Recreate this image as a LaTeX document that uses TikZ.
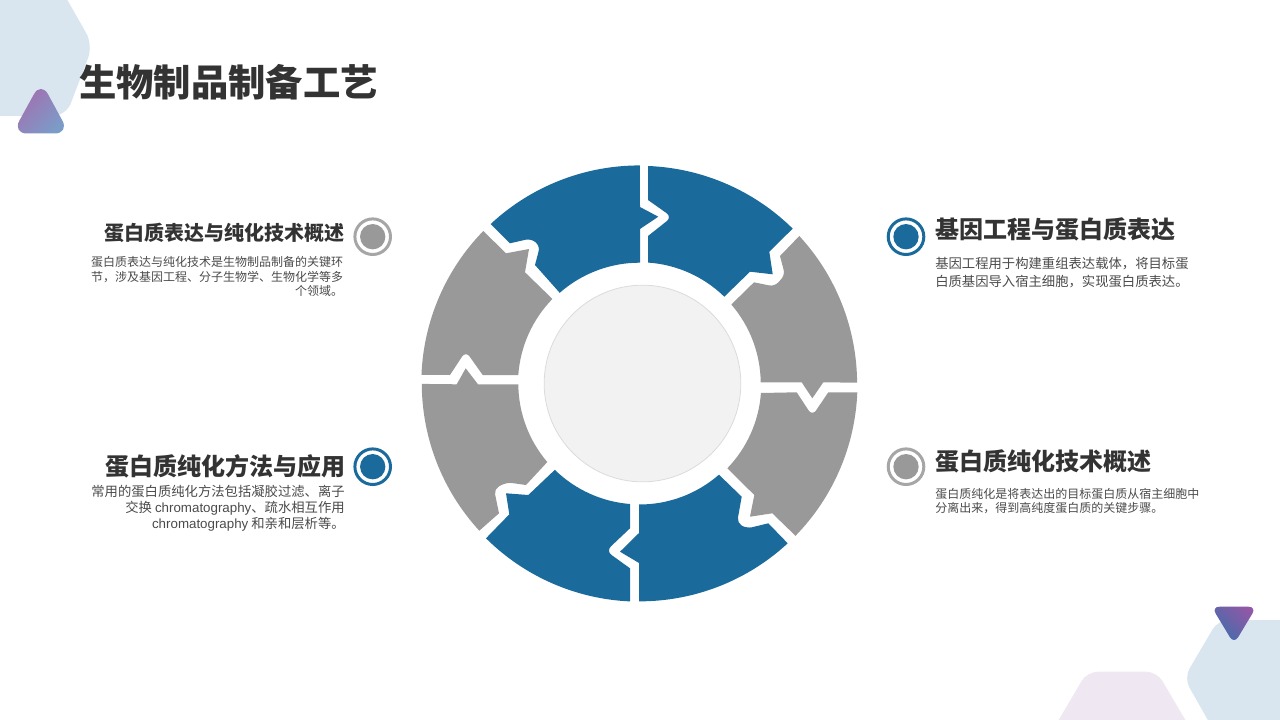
\documentclass[tikz,border=0pt]{standalone}
\usepackage{fontspec}
\setmainfont{Liberation Sans}
\newfontfamily\cjk{Noto Sans CJK SC}
\usetikzlibrary{positioning}
\definecolor{pieceblue}{HTML}{1B6A9C}
\definecolor{piecegray}{HTML}{999999}
\definecolor{ringgray}{HTML}{A6A6A6}
\definecolor{hexblue}{HTML}{DAE6EF}
\definecolor{hexpink}{HTML}{EFE8F3}
\definecolor{darktext}{HTML}{333333}
\definecolor{bodytext}{HTML}{4A4A4A}
\definecolor{triApurple}{HTML}{A66BAE}
\definecolor{triAblue}{HTML}{7A9DC8}
\definecolor{triBpurple}{HTML}{9058A6}
\definecolor{triBblue}{HTML}{3D6EAC}
\tikzset{
  bluepiece/.style={fill=pieceblue},
  graypiece/.style={fill=piecegray},
  ring/.style={shape=circle,draw,line width=2.25pt,minimum size=26.7pt,inner sep=0,outer sep=0},
  dot/.style={shape=circle,minimum size=19pt,inner sep=0},
  heading/.style={inner sep=0,text=darktext,font=\cjk\bfseries\fontsize{18}{22}\selectfont},
  bodytxt/.style={inner sep=0,text=bodytext}
}
\begin{document}
\begin{tikzpicture}[x=.75pt,y=-.75pt]
  \useasboundingbox (0,0) rectangle (1280,720);
  \begin{scope}
    \clip (0,0) rectangle (1280,720);
    % corner decorations
    \fill[hexblue,rounded corners=10pt] (-20,-20) -- (56,-20) -- (93,45) -- (66,116) -- (-20,116) -- cycle;
    \shade[left color=triApurple,right color=triAblue,shading angle=45,rounded corners=11pt] (41,81.4) -- (12.3,133.5) -- (69.4,133.5) -- cycle;
    \fill[hexpink,rounded corners=8pt] (1087,671.7) -- (1157,671.7) -- (1200,745) -- (1044,745) -- cycle;
    \fill[hexblue,rounded corners=8pt] (1300,620) -- (1218,620) -- (1184,678) -- (1222,745) -- (1300,745) -- cycle;
    \shade[left color=triBpurple,right color=triBblue,shading angle=-45,rounded corners=6pt] (1211.5,606.7) -- (1256.5,606.7) -- (1234,644) -- cycle;
  \end{scope}

  \node[anchor=west,inner sep=0,text=darktext,font=\cjk\bfseries\fontsize{28}{34}\selectfont] (title) at (79,82) {生物制品制备工艺};

  % ring pieces, clockwise from the top
  \fill[bluepiece] (490.7,224) arc[start angle=-133,end angle=-89.9,radius=218] -- (640,207) -- (658.3,216.7) -- (640,229) -- (640,262.7)
    arc[start angle=-89.8,end angle=-131.3,radius=121] -- (535,265) [rounded corners=4pt] -- (540,246) -- (531,238.5) [sharp corners] -- (510,243.3) -- cycle;
  \fill[bluepiece] (648,166) arc[start angle=-87.8,end angle=-45.4,radius=218] -- (769.3,251.7) -- (772.7,274.3) -- (750,271.7) -- (724.3,296.7)
    arc[start angle=-45.7,end angle=-86,radius=121] -- (648,236) [rounded corners=5pt] -- (672,217) [sharp corners] -- (648,200) -- cycle;
  \fill[graypiece] (799.3,236) arc[start angle=-42.7,end angle=-.3,radius=218] -- (823.3,382.3) -- (812.3,398.3) -- (801.7,382.3) -- (760.7,382.3)
    arc[start angle=-.6,end angle=-40.8,radius=121] -- (754,282.3) [rounded corners=4pt] -- (774.5,286.5) -- (785,275) [sharp corners] -- (780,256) -- cycle;
  \fill[graypiece] (857.3,392.3) arc[start angle=2.3,end angle=44.3,radius=218] -- (772.3,513.3) -- (750,516.7) -- (754.3,495) -- (727.3,468.3)
    arc[start angle=44,end angle=4.15,radius=121] -- (796.7,392.3) [rounded corners=5pt] -- (812.3,416) [sharp corners] -- (828.3,392.3) -- cycle;
  \fill[bluepiece] (787.7,543.3) arc[start angle=47.2,end angle=90.1,radius=218] -- (639,563) -- (620,551.7) -- (639,533) -- (639,504.5)
    arc[start angle=90.2,end angle=48.9,radius=121] -- (741.7,496.7) [rounded corners=4pt] -- (737,523) -- (747,528.5) [sharp corners] -- (768.3,523.3) -- cycle;
  \fill[bluepiece] (630,504) arc[start angle=94.5,end angle=134.4,radius=121] -- (528.3,495) -- (506,493.3) -- (509.3,514.3) -- (486,538.3)
    arc[start angle=134.8,end angle=92.5,radius=218] -- (630,568.3) [rounded corners=5pt] -- (606,551) [sharp corners] -- (630,528.3) -- cycle;
  \fill[graypiece] (518.3,384.3) arc[start angle=179.6,end angle=139.5,radius=121] -- (526,485) [rounded corners=4pt] -- (506.7,482.3) -- (494,489) [sharp corners] -- (499,513.3) -- (479.3,530.7)
    arc[start angle=137.4,end angle=179.8,radius=218] -- (456.7,384.3) -- (465.7,368.3) -- (478,384.3) -- cycle;
  \fill[graypiece] (483.3,231) arc[start angle=-135.7,end angle=-177.8,radius=218] -- (450,375) [rounded corners=5pt] -- (465.7,351) [sharp corners] -- (482.7,375) -- (518.3,375)
    arc[start angle=-176,end angle=-135.7,radius=121] -- (525,272.3) -- (529,249) -- (506,253.3) -- cycle;

  \node[shape=circle,fill=black!5,draw=black!14,line width=.6pt,minimum size=147.5pt,inner sep=0] (hub) at (642.5,383.5) {};

  % markers
  \node[ring,draw=ringgray] (m1) at (372.7,236.7) {};
  \node[dot,fill=piecegray] (d1) at (m1) {};
  \node[ring,draw=pieceblue] (m2) at (906,236.7) {};
  \node[dot,fill=pieceblue] (d2) at (m2) {};
  \node[ring,draw=pieceblue] (m3) at (372.7,466.7) {};
  \node[dot,fill=pieceblue] (d3) at (m3) {};
  \node[ring,draw=ringgray] (m4) at (906,466.7) {};
  \node[dot,fill=piecegray] (d4) at (m4) {};

  % headings and texts
  \node[heading,font=\cjk\bfseries\fontsize{15}{18}\selectfont,left=7.5pt of m1,yshift=2.8pt] (h1) {蛋白质表达与纯化技术概述};
  \node[bodytxt,anchor=east,align=right,font=\cjk\fontsize{9}{10.9}\selectfont] (b1) at (343.5,276.5) {蛋白质表达与纯化技术是生物制品制备的关键环\\节，涉及基因工程、分子生物学、生物化学等多\\个领域。};
  \node[heading,right=8.5pt of m2,yshift=5.8pt] (h2) {基因工程与蛋白质表达};
  \node[bodytxt,anchor=west,align=left,font=\cjk\fontsize{10}{13.1}\selectfont] (b2) at (935,272.5) {基因工程用于构建重组表达载体，将目标蛋\\白质基因导入宿主细胞，实现蛋白质表达。};
  \node[heading,left=6.8pt of m3,yshift=.5pt] (h3) {蛋白质纯化方法与应用};
  \node[bodytxt,anchor=east,align=right,font=\cjk\fontsize{10}{12}\selectfont] (b3) at (345,508.5) {常用的蛋白质纯化方法包括凝胶过滤、离子\\交换 {\rmfamily chromatography}、疏水相互作用\\{\rmfamily chromatography} 和亲和层析等。};
  \node[heading,right=8.5pt of m4,yshift=4.3pt] (h4) {蛋白质纯化技术概述};
  \node[bodytxt,anchor=west,align=left,font=\cjk\fontsize{9}{10.9}\selectfont] (b4) at (935,501) {蛋白质纯化是将表达出的目标蛋白质从宿主细胞中\\分离出来，得到高纯度蛋白质的关键步骤。};
\end{tikzpicture}
\end{document}
